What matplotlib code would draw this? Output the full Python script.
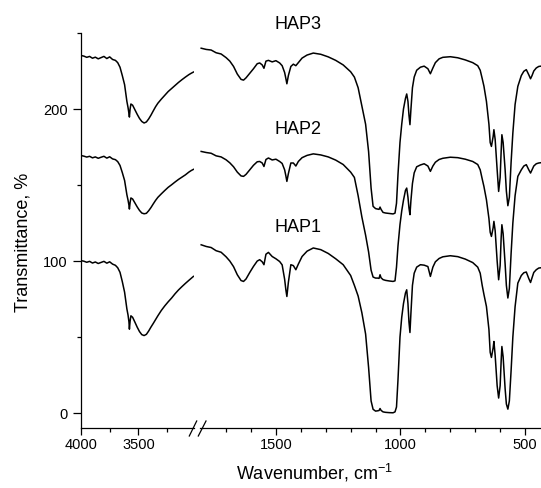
import matplotlib
matplotlib.use("Agg")
import matplotlib.pyplot as plt
from matplotlib.lines import Line2D
from matplotlib.ticker import FixedLocator

plt.rcParams['font.family'] = ['Liberation Sans', 'DejaVu Sans']
plt.rcParams['mathtext.fontset'] = 'custom'
plt.rcParams['mathtext.rm'] = 'Liberation Sans'
plt.rcParams['mathtext.it'] = 'Liberation Sans'

# ---------------- data: high-wavenumber segment ----------------
wn_left = [4000, 3975, 3950, 3925, 3900, 3875, 3850, 3825, 3800, 3775, 3750, 3725,
           3700, 3680, 3660, 3640, 3620, 3600, 3590, 3582, 3578, 3572, 3565, 3550,
           3530, 3510, 3490, 3470, 3450, 3430, 3410, 3390, 3370, 3350, 3330, 3300,
           3270, 3240, 3210, 3180, 3150, 3120, 3090, 3060, 3040, 3020]

hap3_left = [235.2, 234.8, 234.0, 234.6, 233.4, 234.1, 233.0, 233.8, 234.6, 233.2, 234.3, 232.6,
             232.0, 230.5, 227.5, 222.0, 216.0, 205.0, 201.0, 197.0, 194.7, 200.0, 203.3, 202.5,
             199.5, 196.5, 193.8, 191.8, 190.8, 191.5, 193.5, 196.0, 198.8, 201.5, 203.8, 206.5,
             209.0, 211.5, 213.5, 215.5, 217.5, 219.3, 221.0, 222.6, 223.5, 224.3]

hap2_left = [169.4, 169.0, 168.4, 168.9, 167.9, 168.5, 167.6, 168.3, 168.9, 167.7, 168.6, 167.2,
             166.7, 165.4, 162.9, 158.2, 153.0, 143.6, 140.1, 136.7, 134.2, 138.5, 141.5, 140.8,
             138.2, 135.6, 133.3, 131.6, 131.1, 131.4, 133.1, 135.2, 137.6, 139.9, 141.9, 144.2,
             146.4, 148.5, 150.2, 152.0, 153.7, 155.2, 156.7, 158.5, 159.5, 160.3]

hap1_left = [100.3, 99.9, 99.2, 99.8, 98.7, 99.4, 98.4, 99.1, 99.8, 98.6, 99.5, 98.0,
             97.2, 95.6, 92.6, 86.5, 79.5, 68.5, 64.5, 60.0, 55.2, 60.5, 64.0, 63.0,
             59.8, 56.5, 53.6, 51.6, 51.0, 51.8, 54.0, 56.6, 59.0, 61.5, 64.0, 67.5,
             70.5, 73.2, 75.7, 78.5, 81.0, 83.2, 85.3, 87.3, 88.6, 89.9]

# ---------------- data: fingerprint segment ----------------
wn_right = [1800, 1780, 1760, 1740, 1720, 1700, 1685, 1670, 1655, 1640, 1630, 1620,
            1605, 1590, 1575, 1565, 1555, 1548, 1540, 1530, 1515, 1500, 1485, 1475,
            1465, 1460, 1456, 1450, 1440, 1430, 1420, 1410, 1395, 1375, 1350, 1320,
            1290, 1260, 1230, 1200, 1185, 1170, 1155, 1140, 1128, 1118, 1110, 1100,
            1092, 1086, 1082, 1078, 1070, 1060, 1045, 1030, 1022, 1016, 1010, 1002,
            995, 988, 980, 975, 970, 966, 962, 958, 952, 945, 935, 920,
            905, 890, 880, 870, 860, 845, 830, 800, 770, 740, 710, 690,
            680, 672, 665, 655, 645, 640, 635, 628, 625, 620, 612, 606,
            600, 596, 593, 588, 580, 575, 569, 563, 556, 549, 540, 529,
            515, 505, 495, 485, 478, 472, 465, 455, 445, 436]

hap3_right = [240.0, 239.2, 238.8, 237.0, 236.2, 233.8, 231.5, 228.0, 223.0, 219.5, 219.0, 220.5,
              223.5, 226.5, 229.8, 230.3, 229.0, 226.8, 231.5, 232.0, 231.0, 231.8, 230.3, 228.5,
              224.0, 220.0, 216.6, 222.0, 228.0, 229.5, 228.5, 230.5, 233.5, 235.5, 236.8, 236.0,
              234.3, 232.0, 229.0, 224.5, 221.0, 214.0, 202.0, 190.0, 172.0, 148.0, 136.0, 134.5,
              134.2, 134.0, 135.5, 134.0, 132.0, 131.6, 131.3, 131.0, 131.5, 138.0, 157.0, 178.0,
              190.0, 200.0, 207.0, 209.9, 205.0, 196.0, 189.7, 200.0, 214.0, 221.0, 225.5, 227.5,
              228.2, 226.5, 223.2, 227.0, 230.5, 233.0, 234.0, 234.4, 233.7, 232.3, 230.5, 228.5,
              225.5, 220.0, 215.0, 205.0, 190.0, 178.0, 175.4, 182.0, 186.4, 180.0, 160.0, 145.8,
              155.0, 172.0, 183.1, 178.0, 160.0, 146.0, 136.4, 142.0, 165.0, 184.2, 203.0, 214.9,
              222.0, 224.8, 225.9, 222.5, 219.9, 222.0, 225.0, 227.0, 228.0, 228.2]

hap2_right = [172.1, 171.4, 170.9, 169.2, 168.5, 166.6, 164.6, 162.0, 158.5, 156.0, 155.7, 157.0,
              160.0, 163.0, 165.3, 165.5, 164.5, 162.2, 166.8, 167.8, 166.5, 167.0, 165.5, 164.2,
              160.0, 156.0, 152.4, 157.5, 164.5, 164.5, 162.5, 165.5, 168.0, 169.5, 170.5, 169.8,
              168.5, 166.4, 163.5, 158.5, 155.0, 143.0, 129.0, 117.0, 106.0, 94.0, 89.5, 88.8,
              88.8, 88.6, 91.0, 89.0, 87.8, 87.3, 86.9, 86.6, 87.0, 96.0, 110.0, 124.0,
              133.0, 140.0, 146.5, 148.0, 142.0, 135.0, 130.5, 140.0, 151.0, 158.0, 162.0, 163.2,
              164.0, 162.5, 159.0, 162.5, 165.0, 166.8, 167.6, 168.3, 168.0, 167.0, 165.5, 163.5,
              160.0, 154.0, 149.0, 140.3, 128.0, 119.0, 116.2, 122.0, 126.1, 120.0, 100.0, 87.7,
              97.0, 115.0, 123.9, 118.0, 98.0, 84.0, 75.7, 82.0, 105.0, 125.0, 143.0, 155.7,
              160.0, 162.5, 163.4, 160.0, 157.9, 160.0, 162.5, 164.0, 164.5, 164.7]

hap1_right = [110.7, 109.6, 108.9, 106.8, 105.8, 102.8, 100.0, 96.3, 91.0, 87.2, 86.6, 88.2,
              92.5, 96.5, 100.0, 100.9, 99.5, 97.6, 104.5, 105.7, 103.0, 101.5, 99.7, 97.5,
              88.0, 81.0, 76.7, 86.0, 97.6, 97.0, 94.3, 98.0, 103.0, 106.5, 108.6, 107.5,
              105.0, 101.5, 97.6, 90.5, 84.0, 77.0, 66.0, 52.0, 30.0, 8.0, 2.5, 1.3,
              1.5, 1.7, 3.0, 1.8, 0.8, 0.5, 0.3, 0.2, 0.8, 4.0, 22.0, 50.0,
              63.0, 72.0, 79.0, 81.1, 72.0, 60.0, 53.0, 66.0, 84.0, 92.0, 96.0, 97.6,
              97.3, 96.4, 89.9, 96.0, 99.5, 101.7, 102.8, 103.5, 102.9, 101.3, 99.0, 96.0,
              92.0, 84.0, 78.0, 70.1, 55.0, 40.0, 36.6, 43.0, 47.1, 38.0, 18.0, 9.9,
              18.0, 34.0, 43.8, 37.0, 16.0, 6.0, 2.6, 8.0, 28.0, 50.0, 70.0, 85.5,
              90.5, 92.3, 92.8, 88.5, 85.9, 89.0, 92.5, 94.3, 95.4, 95.6]

labels = ["HAP1", "HAP2", "HAP3"]
label_pos_wn = 1412
label_pos_y = [122, 186.4, 255.5]

left_major = [4000, 3500]
left_minor = [3750, 3250]
right_major = [1500, 1000, 500]
right_minor = [1700, 1600, 1400, 1300, 1200, 1100, 900, 800, 700, 600]
y_major = [0, 100, 200]
y_minor = [50, 150, 250]

# ---------------- figure ----------------
W, H = 541, 488
fig = plt.figure(figsize=(W / 100, H / 100), dpi=100)

bottom = 1 - 428.3 / H
height = (428.3 - 33) / H
axL = fig.add_axes([81 / W, bottom, 113 / W, height])
axR = fig.add_axes([200 / W, bottom, 341 / W, height], sharey=axL)

lw = 1.1
for ys in (hap1_left, hap2_left, hap3_left):
    axL.plot(wn_left, ys, color='black', lw=lw)
for ys in (hap1_right, hap2_right, hap3_right):
    axR.plot(wn_right, ys, color='black', lw=lw)

axL.set_xlim(4000, 3015)
axR.set_xlim(1804.7, 436)
axL.set_ylim(-10, 250)

for ax in (axL, axR):
    ax.spines['top'].set_visible(False)
    ax.spines['right'].set_visible(False)
    ax.spines['bottom'].set_linewidth(0.9)
    ax.spines['left'].set_linewidth(0.9)
    ax.tick_params(axis='x', which='major', direction='out', length=4.8, width=0.9,
                   labelsize=10.5, pad=2)
    ax.tick_params(axis='x', which='minor', direction='out', length=2.8, width=0.9)
axR.spines['left'].set_visible(False)
axR.tick_params(axis='y', which='both', left=False, labelleft=False)

axL.tick_params(axis='y', which='major', direction='out', length=6, width=0.9,
                labelsize=10.5, pad=3.5)
axL.tick_params(axis='y', which='minor', direction='out', length=3, width=0.9)

axL.xaxis.set_major_locator(FixedLocator(left_major))
axL.xaxis.set_minor_locator(FixedLocator(left_minor))
axR.xaxis.set_major_locator(FixedLocator(right_major))
axR.xaxis.set_minor_locator(FixedLocator(right_minor))
axL.yaxis.set_major_locator(FixedLocator(y_major))
axL.yaxis.set_minor_locator(FixedLocator(y_minor))

for lab, yv in zip(labels, label_pos_y):
    axR.text(label_pos_wn, yv, lab, ha='center', va='center', fontsize=13, clip_on=False)

# axis-break marks
y0 = 1 - 436 / H
y1 = 1 - 421 / H
for xa, xb in ((189.3, 196.7), (198.3, 206.0)):
    fig.add_artist(Line2D([xa / W, xb / W], [y0, y1], color='black', lw=0.9,
                          transform=fig.transFigure))

fig.text(314 / W, 1 - 473 / H, "Wavenumber, cm$^{\\mathregular{-1}}$", ha='center', va='center',
         fontsize=13)
fig.text(23 / W, 1 - 242 / H, "Transmittance, %", ha='center', va='center',
         rotation=90, fontsize=13)

fig.savefig("out.png", dpi=100)
